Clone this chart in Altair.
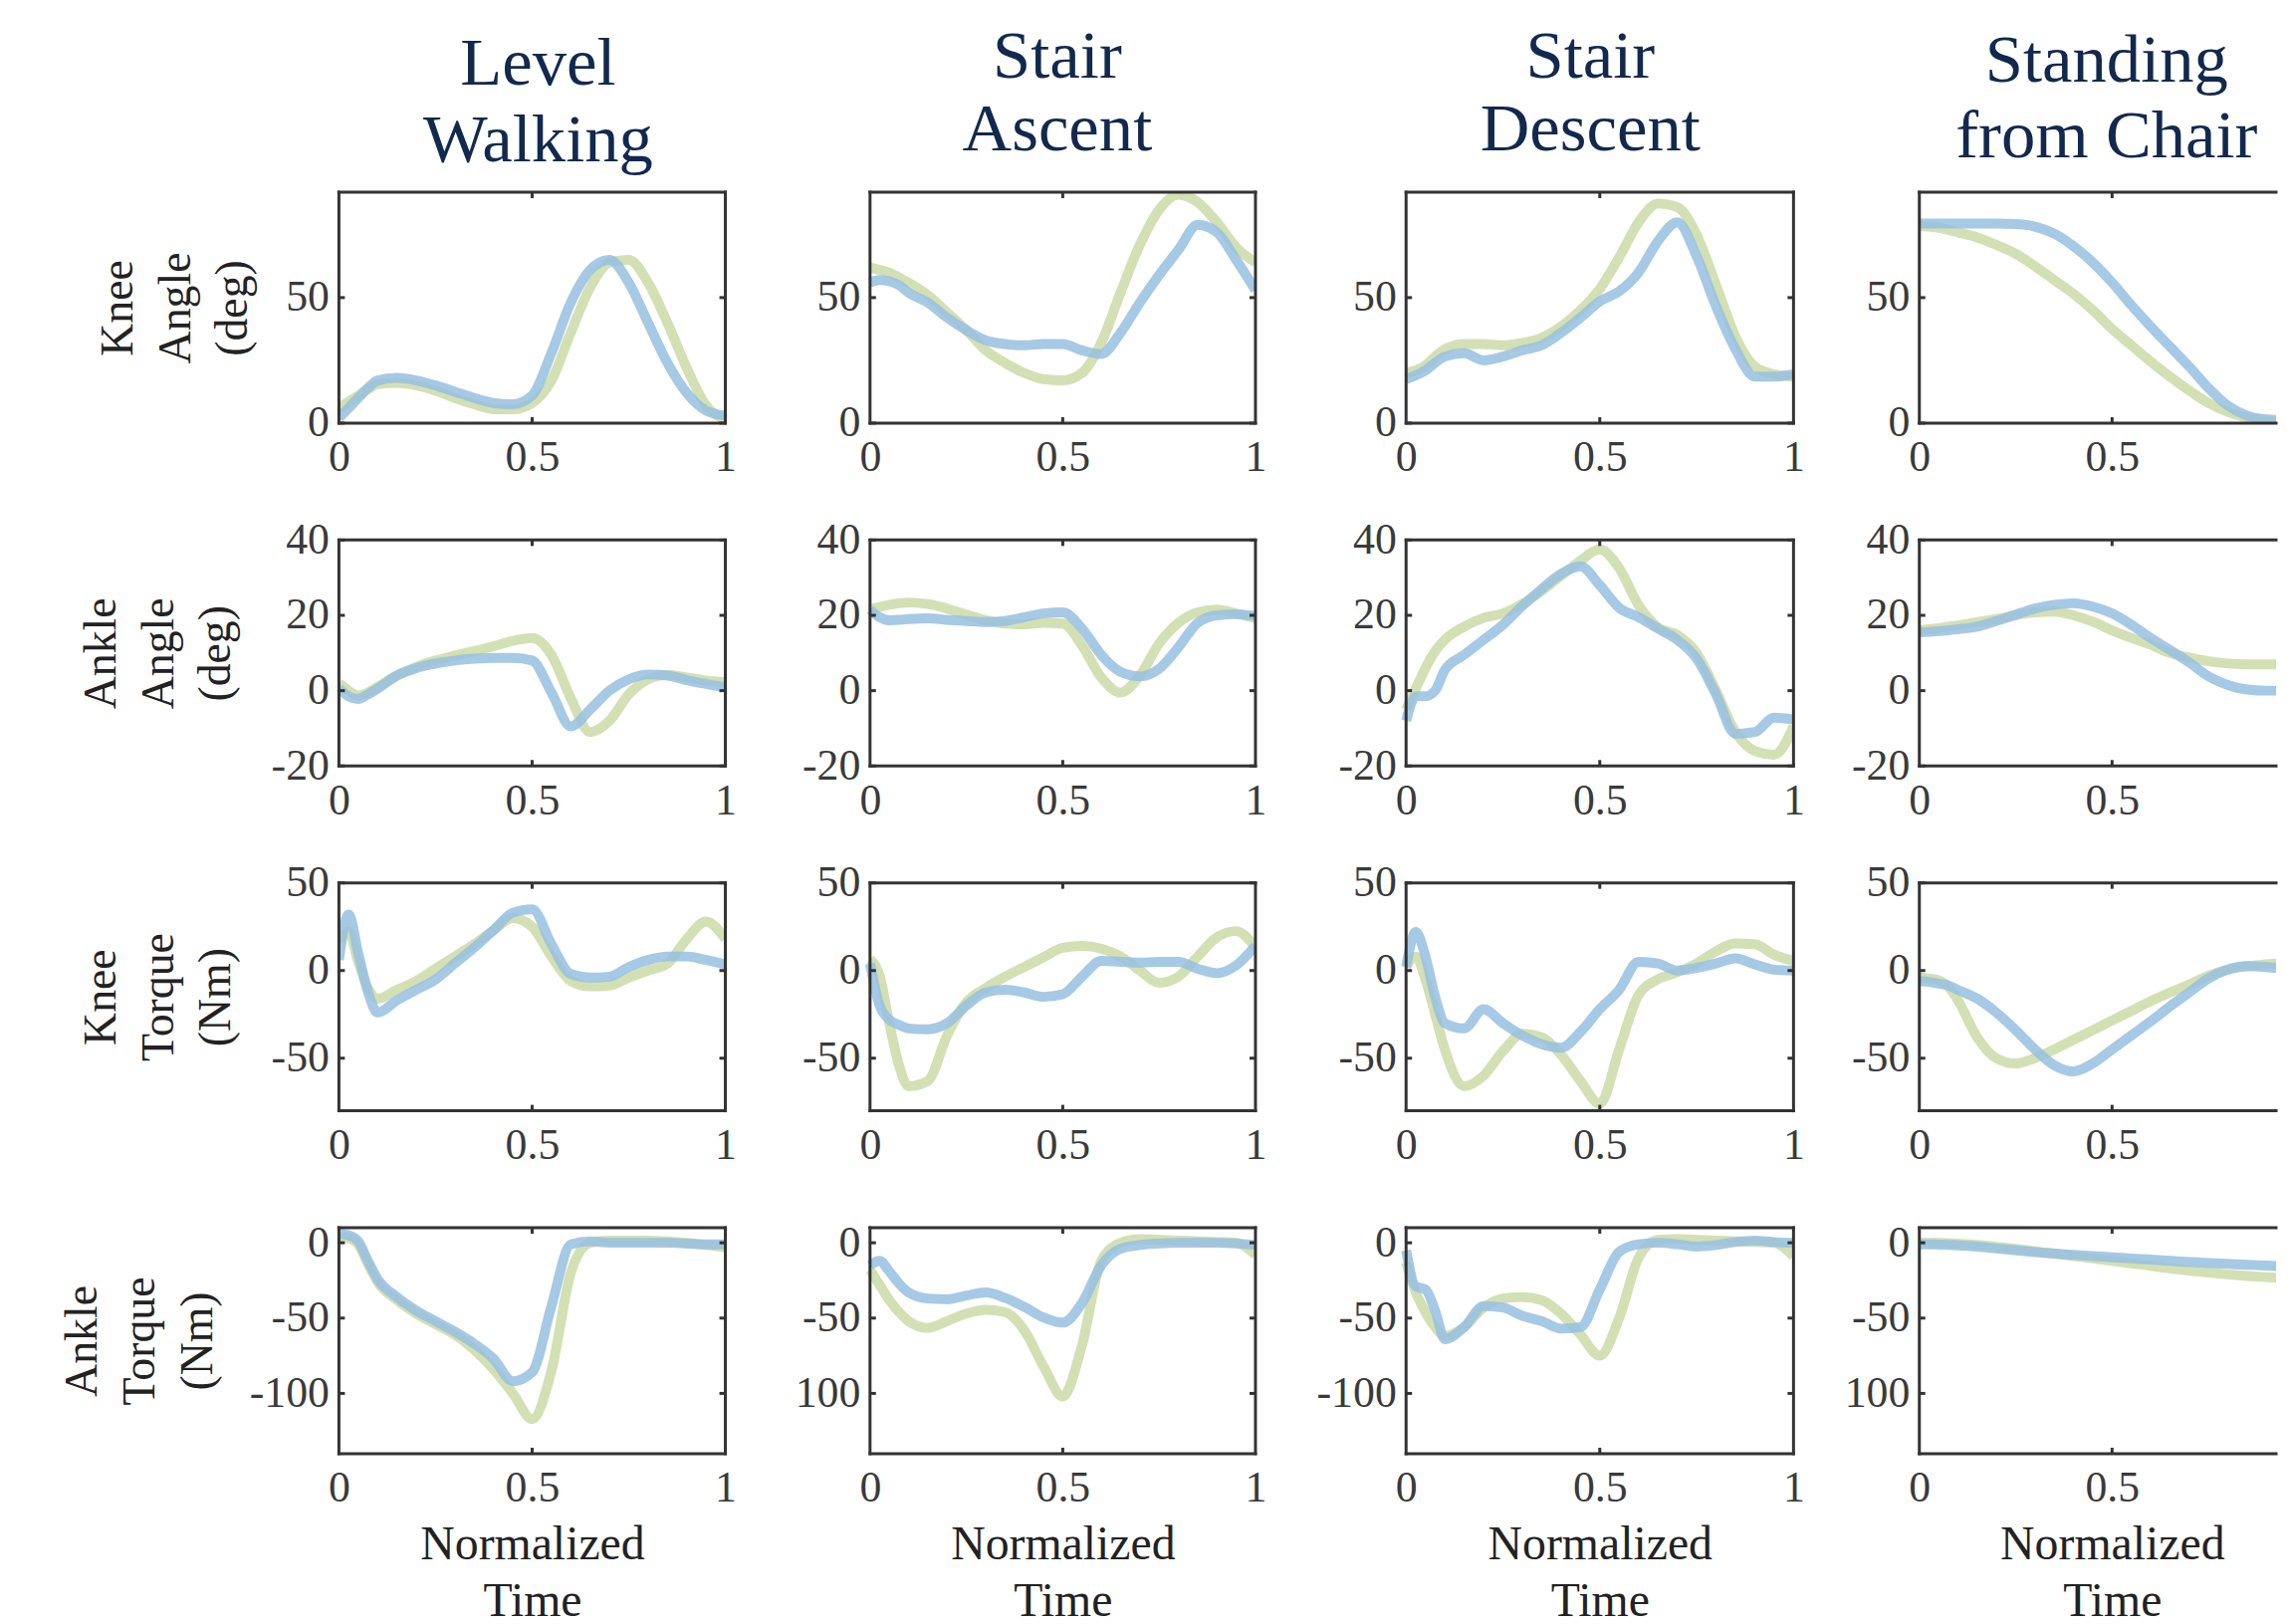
import altair as alt
import pandas as pd

# ---------------- data ----------------
T = [0, 0.025, 0.05, 0.075, 0.1, 0.15, 0.2, 0.25, 0.3, 0.35, 0.4, 0.45,
     0.5, 0.55, 0.6, 0.65, 0.7, 0.75, 0.8, 0.85, 0.9, 0.95, 1.0]

COL_TITLES = [["Level", "Walking"], ["Stair", "Ascent"], ["Stair", "Descent"], ["Standing", "from Chair"]]
ROW_TITLES = [["Knee", "Angle", "(deg)"], ["Ankle", "Angle", "(deg)"],
              ["Knee", "Torque", "(Nm)"], ["Ankle", "Torque", "(Nm)"]]
X_TITLE = ["Normalized", "Time"]
Y_DOMAINS = [[0, 92], [-20, 40], [-80, 50], [-140, 10]]
Y_TICKS = [[0, 50], [-20, 0, 20, 40], [-50, 0, 50], [-100, -50, 0]]
X_TICKS = [0, 0.5, 1]

# Level walking
green_lw_knee_angle = [6, 8.5, 11, 13.5, 15.5, 16, 15, 13, 10, 7.5, 5.5, 5.5, 8, 17, 36, 54, 64, 65, 56, 40, 22, 7, 1.5]
blue_lw_knee_angle = [2, 6, 10, 14, 17, 18, 17, 15, 12.5, 10, 8, 7.5, 11, 28, 48, 61, 65, 56, 40, 24, 12, 5, 3]
green_lw_ankle_angle = [2, 0, -1.3, -0.5, 1, 4, 6.3, 8, 9.3, 10.5, 11.8, 13.2, 14, 9.5, -2, -11, -8, -1, 3, 4.2, 3.5, 2.7, 2.2]
blue_lw_ankle_angle = [0.5, -1.5, -2.2, -1, 0.5, 4, 6, 7.2, 8, 8.5, 8.7, 8.7, 8, -0.5, -9.5, -5, 0, 3, 4.3, 4, 2.8, 1.8, 0.9]
green_lw_knee_torque = [17, 22, 5, -10, -16, -11, -6, 1, 8, 15, 23, 30, 25, 8, -6, -9, -8.5, -4, 0, 4, 18, 28, 18]
blue_lw_knee_torque = [6, 32, 10, -12, -24, -17, -11, -5, 4, 13, 23, 33, 35, 15, -2, -4, -3.5, 2, 6, 8, 8, 6, 3.5]
green_lw_ankle_torque = [4, 3, -1, -14, -26, -38, -47, -54, -61, -71, -84, -100, -117, -85, -20, 0, 1.5, 1.5, 1.5, 1, 0, -1.5, -3]
blue_lw_ankle_torque = [6, 5, 1, -12, -24, -36, -45, -52, -59, -67, -77, -92, -86, -42, -1, 1, 0, 0, 0, 0, -0.5, -1, -1]

# Stair ascent
green_sa_knee_angle = [62, 61, 60, 58, 56, 51, 44, 37, 29, 24, 20, 17.5, 17, 20, 32, 52, 71, 85, 91, 88, 80, 70, 64]
blue_sa_knee_angle = [56, 57, 56.5, 55, 52, 48, 42, 37, 33, 31.5, 31, 31.5, 31.5, 29, 27.5, 36, 48, 59, 69, 79, 76, 65, 53]
green_sa_ankle_angle = [21.5, 22.2, 22.8, 23.2, 23.4, 23, 21.8, 20.2, 18.7, 17.8, 17.6, 18, 17.8, 12, 3.5, -0.5, 4, 12.5, 18, 20.8, 21.5, 20.5, 19.2]
blue_sa_ankle_angle = [21.5, 19.5, 18.7, 18.8, 19, 19.2, 18.8, 18.5, 18.2, 18.5, 19.5, 20.5, 20.8, 16.5, 9.5, 5, 3.8, 5.8, 11.5, 18, 20, 20.3, 19.8]
green_sa_knee_torque = [6.5, -3, -30, -54, -66, -63, -37, -18, -10, -3.5, 2, 7.5, 13, 14, 12.5, 8, 0, -7, -3.5, 8, 19, 22.5, 13]
blue_sa_knee_torque = [4, -20, -28, -31, -33, -33.5, -30, -20, -12.5, -11, -12.5, -15, -13.5, -3.5, 5.5, 5, 4.5, 5, 5, 1, -1.5, 3, 14]
green_sa_ankle_torque = [-18, -28, -38, -46, -52, -56.5, -52, -47, -44.5, -46, -58, -82, -102, -68, -12, 0, 2.5, 2, 1.5, 1, 0.5, 0, -8]
blue_sa_ankle_torque = [-15, -12, -19, -27, -33, -37, -37.5, -35, -33, -36.5, -42.5, -49.5, -53, -40, -15, -4, -1.5, -0.5, 0, 0, 0, -0.5, -1.5]

# Stair descent
green_sd_knee_angle = [20, 21, 23, 26.5, 29.5, 31.5, 31.5, 31, 32, 34, 38.5, 45, 53.5, 66, 80, 87.5, 86, 75, 55, 34.5, 22.5, 19.5, 18.5]
blue_sd_knee_angle = [17.5, 19, 21, 24, 26.5, 27.8, 25, 26.5, 29, 31, 36, 42, 48.5, 52.5, 60, 72.5, 80, 66.5, 46.5, 29.5, 18.5, 18.5, 19.5]
green_sd_ankle_angle = [-5, 0.5, 6, 10.5, 13.5, 17, 19.3, 20.5, 23, 26.5, 30.5, 34.5, 37.5, 32.5, 22.7, 16.8, 14.8, 10, 0, -11, -16, -17, -9.5]
blue_sd_ankle_angle = [-8, -1.5, -1.5, 0, 5.5, 9.5, 13.5, 17.5, 22.5, 27, 31, 33, 28, 22, 19.5, 16.5, 13.5, 8.5, -1, -11.5, -11, -7.2, -7.7]
green_sd_knee_torque = [2, 8, -5, -25, -45, -66, -60, -46, -36, -38, -48, -63, -76, -45, -14, -5, -1, 4, 11, 15.5, 15, 9, 5.5]
blue_sd_knee_torque = [2, 22, 8, -15, -30, -33, -22, -30, -37, -42, -44, -35, -22, -11, 5, 4, 0, 1.5, 4, 7, 3.5, 0.5, 0]
green_sd_ankle_torque = [-13, -33, -46, -56, -62, -56, -43, -37, -36, -38, -47, -61, -75, -50, -10, 2, 2.5, 2, 1.5, 1, 0.5, 0, -9]
blue_sd_ankle_torque = [-5, -29, -31, -45, -64, -56, -42, -43, -48.5, -52, -57, -56, -31, -6, -1, 0, -1, -2.5, -1.5, 0.5, 1.5, 0.5, 0]

# Standing from chair
green_st_knee_angle = [78.5, 78.3, 77.8, 77, 76, 74, 71, 67.5, 62.5, 57, 51.5, 45, 37.5, 31, 24.5, 18.5, 13, 8, 4.5, 2.2, 1, 0.2, 0]
blue_st_knee_angle = [79.5, 79.5, 79.5, 79.5, 79.5, 79.5, 79.5, 79.3, 78.3, 75.5, 70.5, 64, 56, 47, 38.5, 30.5, 22.5, 14, 7, 3, 1.5, 1.2, 1]
green_st_ankle_angle = [16, 16.3, 16.6, 17, 17.3, 18.2, 19, 20, 20.8, 21, 20, 18.3, 16, 14, 12.2, 10, 8.8, 7.8, 7.2, 7, 7, 7, 7]
blue_st_ankle_angle = [15.5, 15.6, 15.8, 16, 16.3, 17, 18.5, 20.2, 21.8, 22.8, 23.2, 22.3, 20.5, 17.5, 14, 10.8, 7.5, 3.8, 1.5, 0.3, 0, 0, 0]
green_st_knee_torque = [-4, -4.5, -5.5, -9, -17, -38, -50, -53, -50, -45, -39.5, -34, -28.5, -23, -17.5, -12.5, -8, -3, 0.5, 2.5, 3.5, 4.5, 5]
blue_st_knee_torque = [-6, -6.5, -7.5, -8.5, -11, -16, -24, -34, -45, -54, -57.5, -53, -45, -37, -29, -20.5, -12.5, -4.5, 0.5, 2.5, 2, 1, 0]
green_st_ankle_torque = [0, 0, 0, -0.2, -0.6, -1.4, -2.6, -4, -5.6, -7.2, -8.8, -10.4, -12, -13.6, -15.3, -17, -18.5, -19.8, -21, -22, -22.8, -23.5, -24]
blue_st_ankle_torque = [-1, -1, -1.2, -1.4, -1.7, -2.6, -3.8, -5, -6.2, -7.2, -8, -8.8, -9.6, -10.4, -11.2, -12, -12.7, -13.4, -14, -14.6, -15.1, -15.7, -16.2]

GREEN = [
    [green_lw_knee_angle, green_sa_knee_angle, green_sd_knee_angle, green_st_knee_angle],
    [green_lw_ankle_angle, green_sa_ankle_angle, green_sd_ankle_angle, green_st_ankle_angle],
    [green_lw_knee_torque, green_sa_knee_torque, green_sd_knee_torque, green_st_knee_torque],
    [green_lw_ankle_torque, green_sa_ankle_torque, green_sd_ankle_torque, green_st_ankle_torque],
]
BLUE = [
    [blue_lw_knee_angle, blue_sa_knee_angle, blue_sd_knee_angle, blue_st_knee_angle],
    [blue_lw_ankle_angle, blue_sa_ankle_angle, blue_sd_ankle_angle, blue_st_ankle_angle],
    [blue_lw_knee_torque, blue_sa_knee_torque, blue_sd_knee_torque, blue_st_knee_torque],
    [blue_lw_ankle_torque, blue_sa_ankle_torque, blue_sd_ankle_torque, blue_st_ankle_torque],
]

# ---------------- style / layout ----------------
FONT = "Liberation Serif"
FRAME = "#333333"
LABEL_COLOR = "#3a3a3a"
TEXT_COLOR = "#222222"
NAVY = "#12294d"
GREEN_C = "#d3e0b4"
BLUE_C = "#96c0e1"
LINE_W = 10
TICK_LEN = 6

BOX_W = [390, 389, 391, 360]        # plot boxes (4th is cut at the page edge)
UNIT_PX = [390, 389, 391, 389]      # pixels per unit of normalized time
EXTRA = [0, 19, 25, 0]              # room left of the box inside each view
COL_GAP = 127
ROW_GAP = 118
PANEL_H = [233, 228, 230, 228]
Y_TITLE_X = [-223, -240, -240, -259]
TITLE_CENTER = [201, 189, 186, 189]  # title centre measured from box left
TITLE_DY = [74, 63, 63, 70]
TITLE_LH = [77, 73, 73, 76]


def axis_label_kw():
    return dict(labelFont=FONT, labelFontSize=44, labelColor=LABEL_COLOR, labelFlush=False,
                labelOverlap=False, ticks=False, tickSize=0, grid=False, domain=False)


def panel(r, c):
    last_col = c == 3
    h = PANEL_H[r]
    e = EXTRA[c]
    w = BOX_W[c] + e
    u = UNIT_PX[c]
    x0, x1 = -e / u, BOX_W[c] / u
    xs = alt.Scale(domain=[x0, x1], nice=False, zero=False)
    ys = alt.Scale(domain=Y_DOMAINS[r], nice=False, zero=False)

    x_kw = dict(values=[v for v in X_TICKS if v <= x1 + 1e-9], labelExpr="toString(datum.value)",
                labelPadding=13, **axis_label_kw())
    if r == 3:
        x_axis = alt.Axis(title=X_TITLE, titleFont=FONT, titleFontSize=48, titleFontWeight="normal",
                          titleColor=TEXT_COLOR, titleLineHeight=57, titleBaseline="middle",
                          titleAlign="center", titleY=92, titleX=e + 0.5 * u, **x_kw)
    else:
        x_axis = alt.Axis(title=None, **x_kw)

    lab = "toString(datum.value)"
    if r == 3 and c in (1, 3):
        lab = "datum.value == -100 ? '100' : toString(datum.value)"
    y_kw = dict(values=Y_TICKS[r], labelExpr=lab, labelPadding=10, labelBaseline="middle",
                offset=-e, **axis_label_kw())
    if c == 0:
        y_axis = alt.Axis(title=ROW_TITLES[r], titleFont=FONT, titleFontSize=46,
                          titleFontWeight="normal", titleColor=TEXT_COLOR, titleAngle=270,
                          titleLineHeight=58, titleBaseline="middle", titleAlign="center",
                          titleX=Y_TITLE_X[r], titleY=h / 2, **y_kw)
    else:
        y_axis = alt.Axis(title=None, **y_kw)

    X = alt.X("t:Q", scale=xs, axis=x_axis)
    Y = alt.Y("v:Q", scale=ys, axis=y_axis)

    dg = pd.DataFrame({"t": T, "v": GREEN[r][c]})
    db = pd.DataFrame({"t": T, "v": BLUE[r][c]})
    g = alt.Chart(dg).mark_line(color=GREEN_C, strokeWidth=LINE_W, interpolate="monotone",
                                clip=True).encode(x=X, y=Y)
    b = alt.Chart(db).mark_line(color=BLUE_C, strokeWidth=LINE_W, opacity=0.85,
                                interpolate="monotone", clip=True).encode(x=X, y=Y)

    rule = dict(color=FRAME, strokeWidth=3, strokeCap="square")
    tick = dict(color=FRAME, strokeWidth=3)
    ytd = pd.DataFrame({"v": Y_TICKS[r]})
    xtd = pd.DataFrame({"t": [0.5]})
    edge_y = pd.DataFrame({"v": Y_DOMAINS[r]})
    edge_x = pd.DataFrame({"t": [0] if last_col else [0, 1]})
    layers = [
        g, b,
        # box edges
        alt.Chart(edge_y).mark_rule(**rule).encode(y=Y, x=alt.value(e), x2=alt.value(w)),
        alt.Chart(edge_x).mark_rule(**rule).encode(x=X, y=alt.value(0), y2=alt.value(h)),
        # inward ticks
        alt.Chart(ytd).mark_rule(**tick).encode(y=Y, x=alt.value(e), x2=alt.value(e + TICK_LEN)),
        alt.Chart(xtd).mark_rule(**tick).encode(x=X, y=alt.value(0), y2=alt.value(TICK_LEN)),
        alt.Chart(xtd).mark_rule(**tick).encode(x=X, y=alt.value(h - TICK_LEN), y2=alt.value(h)),
    ]
    if not last_col:
        layers.append(alt.Chart(ytd).mark_rule(**tick).encode(
            y=Y, x=alt.value(w - TICK_LEN), x2=alt.value(w)))

    props = dict(width=w, height=h)
    if r == 0:
        props["title"] = alt.TitleParams(text=COL_TITLES[c], font=FONT, fontSize=69, color=NAVY,
                                         fontWeight="normal", anchor="middle", frame="group",
                                         baseline="bottom", lineHeight=TITLE_LH[c], offset=20,
                                         dy=TITLE_DY[c], dx=e + TITLE_CENTER[c] - w / 2)
    return alt.layer(*layers).properties(**props)


panels = [panel(r, c) for r in range(4) for c in range(4)]

chart = (
    alt.concat(*panels, columns=4, spacing={"row": ROW_GAP, "column": COL_GAP}, bounds="flush")
    .properties(padding={"left": 51, "top": 11, "right": 0, "bottom": 0}, background="white")
    .configure_view(stroke="transparent")
)

chart.save("out.html", embed_options={"renderer": "svg", "actions": False})
